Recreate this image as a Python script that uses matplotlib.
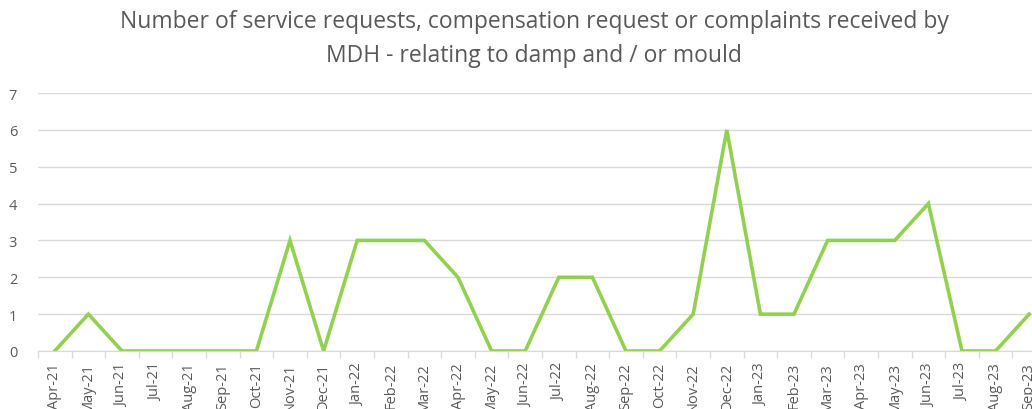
import matplotlib
matplotlib.use("Agg")
import matplotlib.pyplot as plt
import numpy as np

# Data
months = ["Apr-21", "May-21", "Jun-21", "Jul-21", "Aug-21", "Sep-21", "Oct-21",
          "Nov-21", "Dec-21", "Jan-22", "Feb-22", "Mar-22", "Apr-22", "May-22",
          "Jun-22", "Jul-22", "Aug-22", "Sep-22", "Oct-22", "Nov-22", "Dec-22",
          "Jan-23", "Feb-23", "Mar-23", "Apr-23", "May-23", "Jun-23", "Jul-23",
          "Aug-23", "Sep-23"]
requests = [0, 1, 0, 0, 0, 0, 0, 3, 0, 3, 3, 3, 2, 0, 0, 2, 2, 0, 0, 1, 6,
            1, 1, 3, 3, 3, 4, 0, 0, 1]

plt.rcParams['font.family'] = ['Open Sans', 'DejaVu Sans']

fig = plt.figure(figsize=(10.32, 4.10), dpi=100)
# axes run past the right edge, the original image is cropped there
W, H = 1032, 410
ax = fig.add_axes([38 / W, (H - 352) / H, (1046 - 38) / W, (352 - 94) / H])

x = np.arange(len(months))
ax.plot(x, requests, color='#92D050', linewidth=2.6, solid_joinstyle='miter')

ax.set_xlim(-0.5, len(months) - 0.5)
ax.set_ylim(0, 7)
ax.set_yticks(range(8))
ax.grid(axis='y', color='#D9D9D9', linewidth=1)
ax.set_axisbelow(True)

ax.set_xticks(x)
ax.set_xticklabels(months, rotation=90, fontsize=10.5, color='#595959')
ax.set_xticks(np.arange(-0.5, len(months)), minor=True)
ax.tick_params(axis='x', which='major', length=0, pad=8)
ax.tick_params(axis='x', which='minor', length=5, color='#D9D9D9', width=1)
ax.tick_params(axis='y', length=0, labelsize=10.5, labelcolor='#595959', pad=15)

for s in ['top', 'right', 'left']:
    ax.spines[s].set_visible(False)
ax.spines['bottom'].set_color('#D9D9D9')

fig.text(534 / W, 1 - 39 / H,
         "Number of service requests, compensation request or complaints received by\nMDH - relating to damp and / or mould",
         ha='center', va='center', fontsize=16.5, color='#595959', linespacing=1.55)

fig.savefig("out.png", dpi=100)
